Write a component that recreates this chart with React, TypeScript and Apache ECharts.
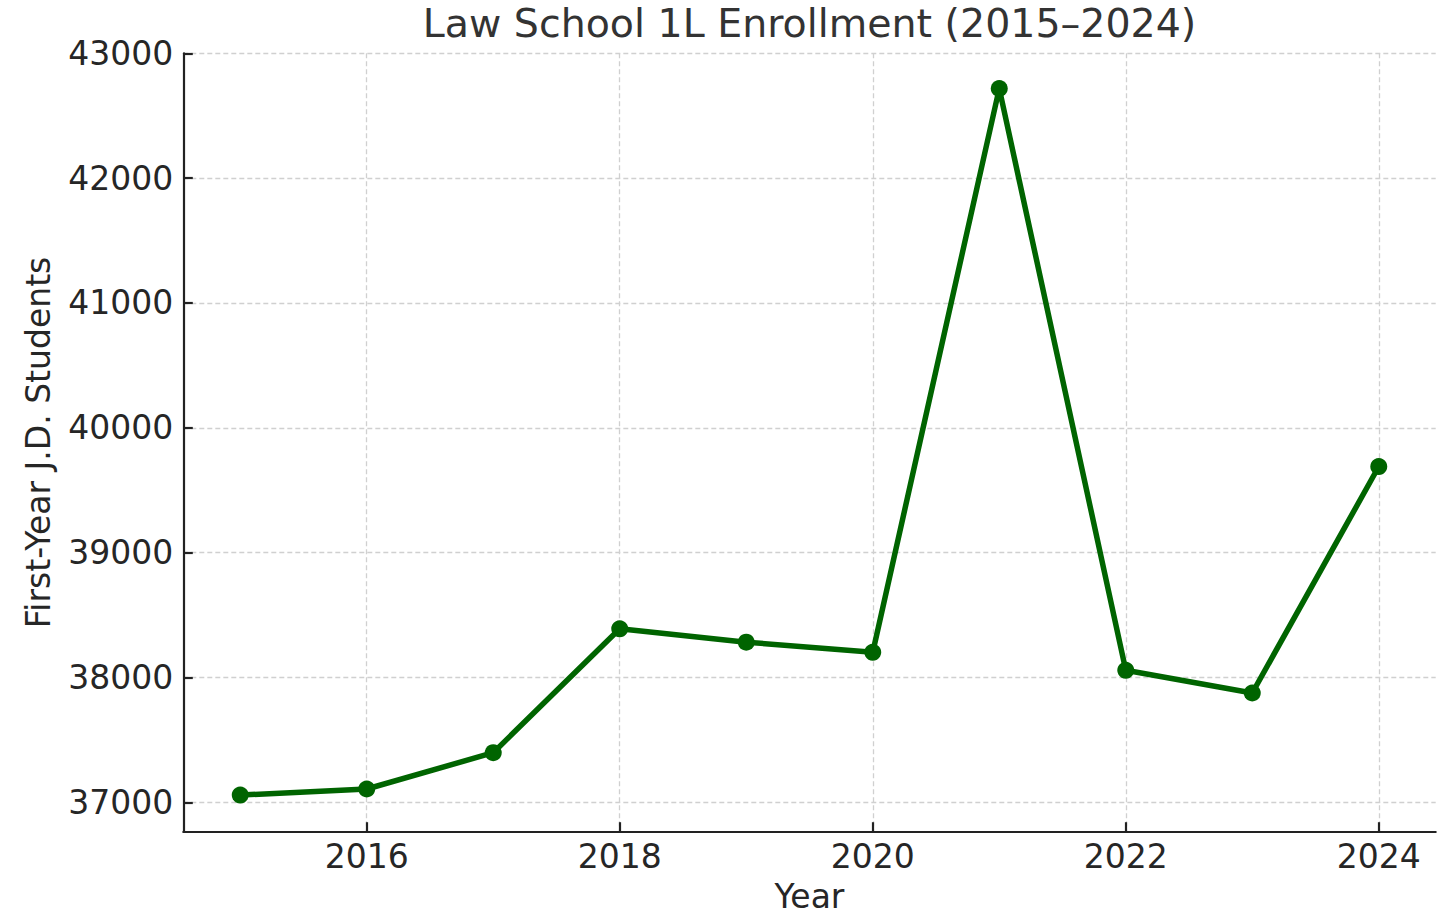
import React, { useEffect, useRef } from 'react';
import * as echarts from 'echarts';

const years = [2015, 2016, 2017, 2018, 2019, 2020, 2021, 2022, 2023, 2024];
const enrollment = [37058, 37107, 37398, 38390, 38283, 38202, 42718, 38058, 37876, 39690];
const xTickValues = [2016, 2018, 2020, 2022, 2024];
const yTickValues = [37000, 38000, 39000, 40000, 41000, 42000, 43000];
const titleText = 'Law School 1L Enrollment (2015\u20132024)';
const xAxisTitle = 'Year';
const yAxisTitle = 'First-Year J.D. Students';

const FONT = 'DejaVu Sans';

export default function App() {
  const ref = useRef<HTMLDivElement>(null);

  useEffect(() => {
    if (!ref.current) return;
    const chart = echarts.init(ref.current, null, { renderer: 'svg' });
    const gridLeft = 183.3;
    const gridRight = 1453 - 1435.7;
    const gridTop = 53.3;
    const gridBottom = 915 - 831.7;
    const splitLine = {
      show: true,
      lineStyle: { color: '#d0d0d0', width: 1.3, type: [5, 3] },
    };
    const axisLine = { show: true, lineStyle: { color: '#222222', width: 2.2 } };
    const axisTickBase = { show: true, inside: true, length: 9.5, lineStyle: { color: '#222222', width: 2.2 } };
    chart.setOption({
      animation: false,
      backgroundColor: '#ffffff',
      textStyle: { fontFamily: FONT },
      graphic: [
        {
          type: 'text',
          x: (gridLeft + 1435.7) / 2,
          y: 23,
          style: {
            text: titleText,
            fill: '#333333',
            font: `39.5px "${FONT}"`,
            textAlign: 'center',
            textVerticalAlign: 'middle',
          },
        },
      ],
      grid: {
        left: gridLeft,
        right: gridRight,
        top: gridTop,
        bottom: gridBottom,
        containLabel: false,
        outerBoundsMode: 'none',
      },
      xAxis: {
        type: 'value',
        min: 2014.55,
        max: 2024.45,
        name: xAxisTitle,
        nameLocation: 'middle',
        nameGap: 48,
        nameTextStyle: { fontFamily: FONT, fontSize: 33, color: '#262626' },
        axisLine,
        axisTick: { ...axisTickBase, customValues: xTickValues },
        axisLabel: {
          customValues: xTickValues,
          margin: 8,
          fontFamily: FONT,
          fontSize: 33,
          color: '#262626',
          formatter: (v: number) => String(v),
        },
        splitLine,
      },
      yAxis: {
        type: 'value',
        min: 36765,
        max: 43000,
        name: yAxisTitle,
        nameLocation: 'middle',
        nameGap: 128,
        nameRotate: 90,
        nameTextStyle: { fontFamily: FONT, fontSize: 33, color: '#262626' },
        axisLine,
        axisTick: { ...axisTickBase, customValues: yTickValues },
        axisLabel: {
          customValues: yTickValues,
          margin: 10,
          fontFamily: FONT,
          fontSize: 33,
          color: '#262626',
          formatter: (v: number) => String(v),
        },
        splitLine,
      },
      series: [
        {
          type: 'line',
          data: years.map((y, i) => [y, enrollment[i]]),
          symbol: 'circle',
          symbolSize: 17,
          showSymbol: true,
          lineStyle: { color: '#006400', width: 5.5 },
          itemStyle: { color: '#006400', borderWidth: 0 },
          emphasis: { disabled: true },
          z: 3,
        },
      ],
    });
    return () => chart.dispose();
  }, []);

  return (
    <div
      ref={ref}
      style={{ position: 'absolute', left: 0, top: 0, width: 1453, height: 915, background: '#ffffff' }}
    />
  );
}
